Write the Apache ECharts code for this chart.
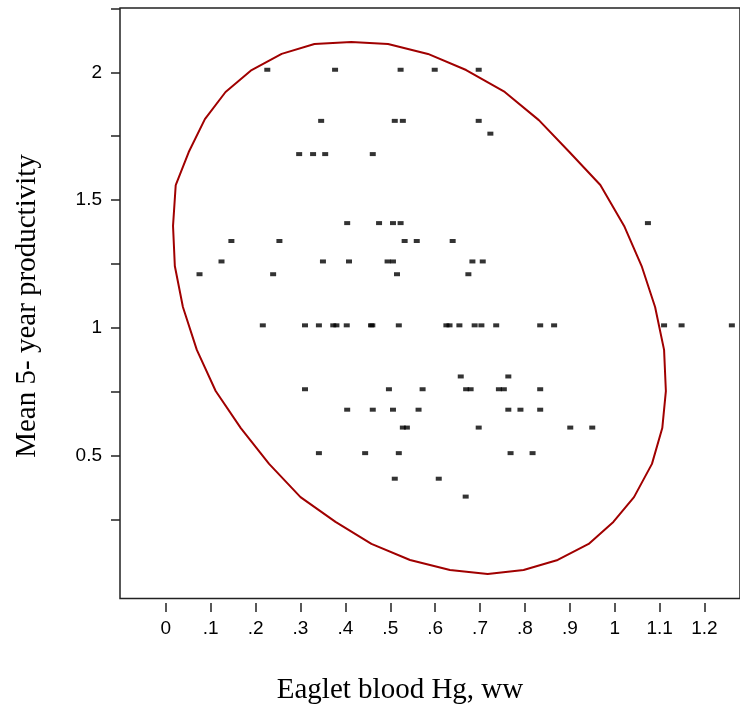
<!DOCTYPE html>
<html>
<head>
<meta charset="utf-8">
<script src="https://cdn.jsdelivr.net/npm/echarts@6/dist/echarts.min.js"></script>
<style>
  html, body { margin: 0; padding: 0; background: #fff; }
  #chart { width: 740px; height: 704px; }
</style>
</head>
<body>
<div id="chart"></div>
<script>
// ---- Data ----
const productivityLevels = [2.01, 1.81, 1.76, 1.68, 1.41, 1.34, 1.26, 1.21, 1.01, 0.81, 0.76, 0.68, 0.61, 0.51, 0.41, 0.34];
const hgAtLevel = [
  [0.226, 0.377, 0.523, 0.599, 0.697],
  [0.346, 0.510, 0.528, 0.697],
  [0.723],
  [0.297, 0.328, 0.355, 0.461],
  [0.404, 0.475, 0.506, 0.523, 1.074],
  [0.146, 0.253, 0.532, 0.559, 0.639],
  [0.124, 0.350, 0.408, 0.494, 0.506, 0.683, 0.706],
  [0.075, 0.239, 0.515, 0.674],
  [0.216, 0.310, 0.341, 0.373, 0.380, 0.403, 0.457, 0.460, 0.519, 0.625, 0.632, 0.654, 0.688, 0.703, 0.736, 0.834, 0.865, 1.110, 1.149, 1.261],
  [0.657, 0.763],
  [0.310, 0.497, 0.572, 0.669, 0.679, 0.742, 0.753, 0.834],
  [0.404, 0.461, 0.506, 0.563, 0.763, 0.790, 0.834],
  [0.528, 0.537, 0.697, 0.901, 0.950],
  [0.341, 0.444, 0.519, 0.768, 0.817],
  [0.510, 0.608],
  [0.668]
];
const ellipseX = [0.022, 0.051, 0.087, 0.133, 0.191, 0.258, 0.331, 0.413, 0.495, 0.584, 0.669, 0.755, 0.831, 0.899, 0.968,
  1.021, 1.060, 1.090, 1.110, 1.114, 1.106, 1.083, 1.043, 0.997, 0.942, 0.873, 0.797, 0.717, 0.633, 0.544,
  0.458, 0.378, 0.300, 0.230, 0.167, 0.111, 0.069, 0.038, 0.020, 0.016];
const ellipseY = [1.559, 1.688, 1.817, 1.923, 2.009, 2.072, 2.111, 2.119, 2.111, 2.072, 2.009, 1.923, 1.813, 1.688, 1.559,
  1.399, 1.242, 1.082, 0.914, 0.753, 0.608, 0.468, 0.338, 0.241, 0.155, 0.092, 0.053, 0.037, 0.053, 0.092,
  0.155, 0.241, 0.338, 0.468, 0.608, 0.753, 0.914, 1.082, 1.242, 1.399];
const xTickValues = [0, 0.1, 0.2, 0.3, 0.4, 0.5, 0.6, 0.7, 0.8, 0.9, 1.0, 1.1, 1.2];
const xTickLabels = ['0', '.1', '.2', '.3', '.4', '.5', '.6', '.7', '.8', '.9', '1', '1.1', '1.2'];
const yTickValues = [0.25, 0.5, 0.75, 1.0, 1.25, 1.5, 1.75, 2.0, 2.25];
const yLabelValues = [0.5, 1.0, 1.5, 2.0];
const yTickLabels = ['0.5', '1', '1.5', '2'];
const xTitle = 'Eaglet blood Hg, ww';
const yTitle = 'Mean 5- year productivity';

// ---- Build series data ----
const scatterData = [];
productivityLevels.forEach((p, i) => {
  hgAtLevel[i].forEach(h => scatterData.push([h, p]));
});
const ellipseData = ellipseX.map((x, i) => [x, ellipseY[i]]);
ellipseData.push(ellipseData[0]);

const axisColor = '#222';
const chart = echarts.init(document.getElementById('chart'), null, { renderer: 'canvas' });
chart.setOption({
  animation: false,
  backgroundColor: '#fff',
  grid: {
    left: 120, top: 8, width: 622, height: 590.5,
    show: true, borderColor: axisColor, borderWidth: 1.5, backgroundColor: 'transparent'
  },
  xAxis: {
    type: 'value', min: -0.10215, max: 1.27915, offset: 4.5, position: 'bottom',
    axisLine: { show: false, onZero: false },
    axisTick: { show: true, customValues: xTickValues, length: 9, lineStyle: { color: axisColor, width: 1.5 } },
    axisLabel: {
      customValues: xTickValues, margin: 16,
      fontFamily: 'Liberation Sans', fontSize: 19, color: '#000',
      formatter: v => xTickLabels[Math.round(v * 10)]
    },
    splitLine: { show: false }
  },
  yAxis: {
    type: 'value', min: -0.0587, max: 2.2516, position: 'left',
    axisLine: { show: false, onZero: false },
    axisTick: { show: true, customValues: yTickValues, length: 9, lineStyle: { color: axisColor, width: 1.5 } },
    axisLabel: {
      customValues: yLabelValues, margin: 18,
      fontFamily: 'Liberation Sans', fontSize: 19, color: '#000',
      formatter: v => yTickLabels[yLabelValues.indexOf(v)]
    },
    splitLine: { show: false }
  },
  graphic: [
    {
      type: 'text', position: [400, 690],
      style: { text: xTitle, x: 0, y: 0, fontFamily: 'Liberation Serif', fontSize: 29, fill: '#000',
        align: 'center', verticalAlign: 'middle' }
    },
    {
      type: 'text', rotation: Math.PI / 2, position: [27, 306],
      style: { text: yTitle, x: 0, y: 0, fontFamily: 'Liberation Serif', fontSize: 29, fill: '#000',
        align: 'center', verticalAlign: 'middle' }
    }
  ],
  series: [
    {
      type: 'line', data: ellipseData, symbol: 'none', smooth: false,
      lineStyle: { color: '#a00000', width: 2 }, z: 2, silent: true
    },
    {
      type: 'scatter', data: scatterData, symbol: 'rect', symbolSize: [6, 4],
      itemStyle: { color: '#000' }, z: 3, silent: true
    }
  ]
});
</script>
</body>
</html>
